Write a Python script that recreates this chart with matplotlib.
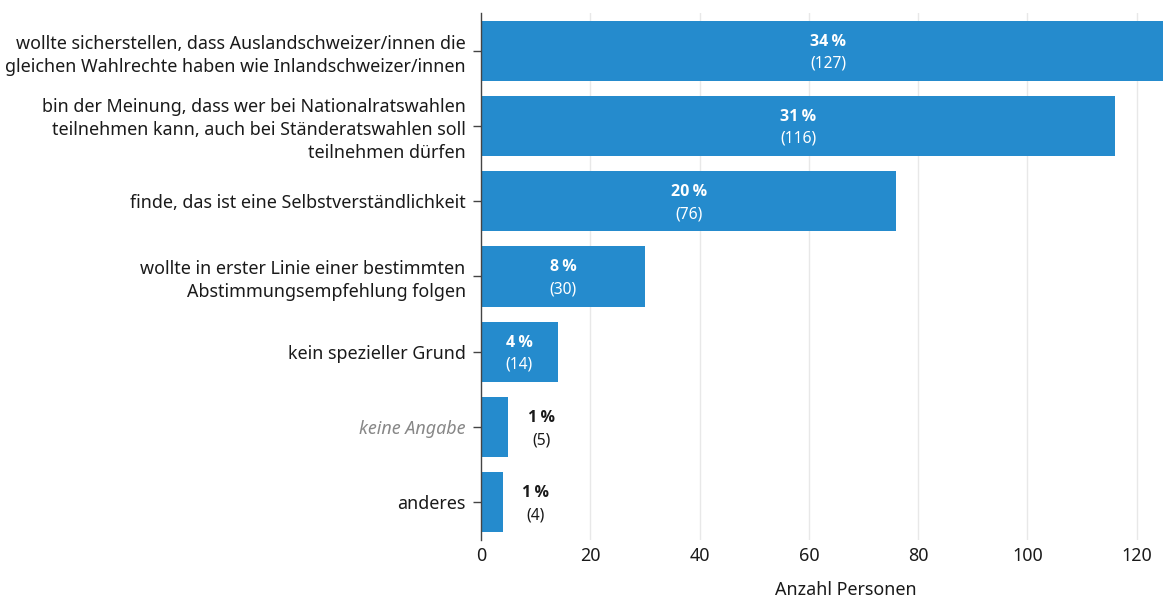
import matplotlib
matplotlib.use("Agg")
import matplotlib.pyplot as plt

plt.rcParams["font.family"] = ["Noto Sans", "DejaVu Sans"]

categories = [
    "wollte sicherstellen, dass Auslandschweizer/innen die\ngleichen Wahlrechte haben wie Inlandschweizer/innen",
    "bin der Meinung, dass wer bei Nationalratswahlen\nteilnehmen kann, auch bei Ständeratswahlen soll\nteilnehmen dürfen",
    "finde, das ist eine Selbstverständlichkeit",
    "wollte in erster Linie einer bestimmten\nAbstimmungsempfehlung folgen",
    "kein spezieller Grund",
    "keine Angabe",
    "anderes",
]
counts = [127, 116, 76, 30, 14, 5, 4]
percents = [34, 31, 20, 8, 4, 1, 1]
xticks = [0, 20, 40, 60, 80, 100, 120]

BAR = "#258bcd"
TEXT = "#1a1a1a"

fig = plt.figure(figsize=(11.63, 5.99), dpi=100)
ax = fig.add_axes([481 / 1163, 59 / 599, 682 / 1163, 527 / 599])

ypos = list(range(len(categories)))
ax.barh(ypos, counts, height=0.8, color=BAR, zorder=2)
ax.set_ylim(len(categories) - 0.5, -0.5)
ax.set_xlim(0, 124.8)

# labels: inside the bar (white) when it fits, else just right of it
for y, c, p in zip(ypos, counts, percents):
    if c >= 10:
        x, dx, col = c / 2, 0, "white"
    else:
        x, dx, col = c, 33, TEXT
    ax.annotate(f"{p}\u2009%", (x, y), xytext=(dx, 9), textcoords="offset pixels",
                ha="center", va="center", fontsize=11.5, fontweight="bold", color=col, zorder=3,
                family=["Open Sans", "Noto Sans", "DejaVu Sans"])
    ax.annotate(f"({c})", (x, y), xytext=(dx, -13), textcoords="offset pixels",
                ha="center", va="center", fontsize=11.2, color=col, zorder=3)

ax.set_yticks(ypos)
ax.set_yticklabels(categories, fontsize=12.9, color=TEXT, linespacing=1.35)
for lbl, cat in zip(ax.get_yticklabels(), categories):
    if cat == "keine Angabe":
        lbl.set_style("italic")
        lbl.set_color("#888888")
ax.tick_params(axis="y", length=6, width=1, color="#444444", pad=5)

ax.set_xticks(xticks)
ax.set_xticklabels([str(t) for t in xticks], fontsize=12.9, color=TEXT)
ax.tick_params(axis="x", length=0, pad=5)
ax.set_xlabel("Anzahl Personen", fontsize=12.9, color=TEXT)
ax.xaxis.set_label_coords(0.535, -0.078)

for t in xticks[1:]:
    ax.axvline(t, color="#e8e8e8", linewidth=1, zorder=1)

for s in ["top", "right", "bottom"]:
    ax.spines[s].set_visible(False)
ax.spines["left"].set_color("#444444")
ax.spines["left"].set_linewidth(1)
ax.spines["left"].set_zorder(4)

fig.savefig("out.png", dpi=100)
